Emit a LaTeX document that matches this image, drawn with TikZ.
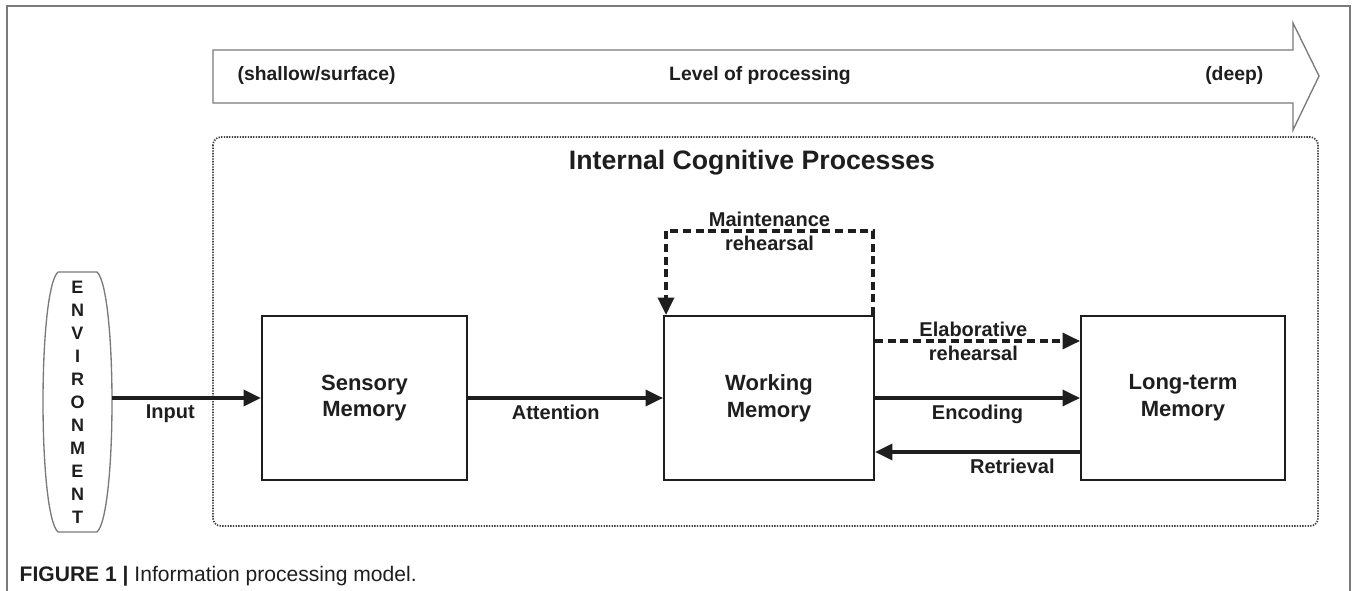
\documentclass[tikz,border=0pt]{standalone}
\usepackage{fontspec}
\setmainfont{Liberation Sans}
\usetikzlibrary{arrows.meta}

\definecolor{ink}{HTML}{1E1E1E}
\definecolor{framegray}{HTML}{7A7A7A}

\begin{document}
\begin{tikzpicture}[x=0.75pt, y=-0.75pt,
    memory/.style={draw=ink, line width=1.5pt, rectangle, minimum height=123pt, align=center,
        font=\fontsize{16.5pt}{20pt}\selectfont\bfseries, text=ink},
    flow/.style={draw=ink, line width=2.6pt, -{Triangle[length=13pt, width=12pt]}},
    rehearsal/.style={flow, line width=2.6pt, dash pattern=on 6pt off 3.5pt},
    tag/.style={font=\fontsize{15pt}{18pt}\selectfont\bfseries, text=ink, align=center, inner sep=1pt},
    level/.style={font=\fontsize{14.5pt}{17pt}\selectfont\bfseries, text=ink}]
    \useasboundingbox (0,0) rectangle (1356,591);
    \draw[framegray, line width=0.9pt] (7,591) -- (7,6) -- (1350,6) -- (1350,591);

    \draw[framegray, line width=1pt] (213,50) -- (1293,50) -- (1293,23) -- (1319,76) -- (1293,130) -- (1293,103) -- (213,103) -- cycle;
    \node[level, anchor=west] (shallow) at (233,76) {(shallow/surface)};
    \node[level] (depth) at (760,76) {Level of processing};
    \node[level, anchor=east] (deep) at (1268,76) {(deep)};

    \draw[ink!85, line width=1.3pt, dash pattern=on 1pt off 1pt, rounded corners=6pt] (213,137) rectangle (1318,526);
    \node[font=\fontsize{20pt}{24pt}\selectfont\bfseries, text=ink] (internal) at (752,163) {Internal Cognitive Processes};

    \node[align=center, minimum width=51.75pt, minimum height=195pt, inner sep=0pt,
        font=\fontsize{13.5pt}{17.25pt}\selectfont\bfseries, text=ink] (env) at (77.5,402) {E\\N\\V\\I\\R\\O\\N\\M\\E\\N\\T};
    \draw[framegray, line width=1pt] (58,272) -- (97,272) .. controls (117,290) and (117,514) .. (97,532)
        -- (58,532) .. controls (38,514) and (38,290) .. (58,272);

    \node[memory, minimum width=153.75pt] (sm) at (364.5,398) {Sensory\\Memory};
    \node[memory, minimum width=157.5pt] (wm) at (769,398) {Working\\Memory};
    \node[memory, minimum width=153pt] (ltm) at (1183,398) {Long-term\\Memory};

    \draw[flow] (env.east |- sm) -- node[tag, below=3pt, pos=0.39] {Input} (sm);
    \draw[flow] (sm) -- node[tag, below=3pt, pos=0.45] {Attention} (wm);
    \draw[flow] (wm) -- node[tag, below=3pt] {Encoding} (ltm);
    \draw[flow] ([yshift=-40.5pt]ltm.west) -- node[tag, below=3pt, pos=0.33] {Retrieval} ([yshift=-40.5pt]wm.east);
    \draw[rehearsal] ([yshift=42.75pt]wm.east) -- node[tag, pos=0.48] {Elaborative\\rehearsal} ([yshift=42.75pt]ltm.west);
    \draw[rehearsal] ([xshift=-1.5pt]wm.north east) -- ++(0,-84) -| node[tag, pos=0.25] {Maintenance\\rehearsal} ([xshift=2.25pt]wm.north west);

    \node[anchor=west, font=\fontsize{15.8pt}{19pt}\selectfont, text=ink] (caption) at (15,576) {\textbf{FIGURE 1 |} Information processing model.};
\end{tikzpicture}
\end{document}
